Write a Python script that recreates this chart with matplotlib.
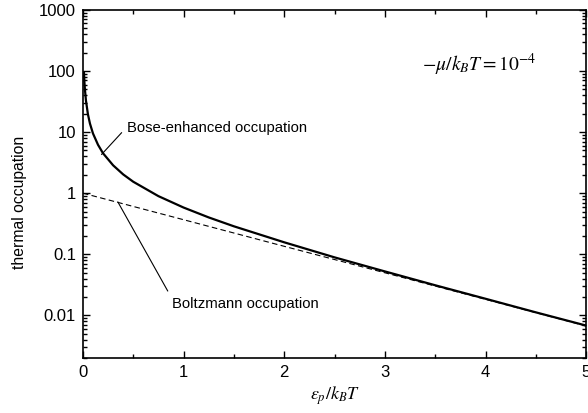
import matplotlib
matplotlib.use("Agg")
import matplotlib.pyplot as plt
from matplotlib.ticker import LogLocator, MultipleLocator, NullFormatter, FixedLocator

plt.rcParams['font.family'] = ['Liberation Sans', 'DejaVu Sans']
plt.rcParams['mathtext.fontset'] = 'stix'

# Bose-enhanced occupation (solid) and Boltzmann occupation (dashed)
bose_x = [0.01, 0.015, 0.02, 0.03, 0.05, 0.07, 0.1, 0.15, 0.2, 0.3, 0.4, 0.5,
          0.75, 1.0, 1.25, 1.5, 2.0, 2.5, 3.0, 3.5, 4.0, 4.5, 5.0]
bose_y = [99, 66, 50, 33, 19.5, 13.8, 9.5, 6.2, 4.5, 2.86, 2.03, 1.54,
          0.895, 0.582, 0.401, 0.287, 0.157, 0.089, 0.0524, 0.0311, 0.0187, 0.0112, 0.0068]
boltz_x = [0.0, 1.0, 2.0, 3.0, 4.0, 5.0]
boltz_y = [1.0, 0.368, 0.135, 0.0498, 0.0183, 0.0067]

x_ticks = [0, 1, 2, 3, 4, 5]
y_ticks = [0.01, 0.1, 1, 10, 100, 1000]
y_labels = ["0.01", "0.1", "1", "10", "100", "1000"]

fig = plt.figure(figsize=(5.88, 4.13), dpi=100)
ax = fig.add_axes([0.141, 0.133, 0.856, 0.843])

ax.plot(bose_x, bose_y, color='black', lw=1.6, solid_capstyle='butt')
ax.plot(boltz_x, boltz_y, color='black', lw=0.8, dashes=(5, 3))

ax.set_yscale('log')
ax.set_xlim(0, 5)
ax.set_ylim(0.002, 1000)

ax.xaxis.set_major_locator(FixedLocator(x_ticks))
ax.xaxis.set_minor_locator(MultipleLocator(0.5))
ax.set_xticklabels([str(v) for v in x_ticks])
ax.yaxis.set_major_locator(FixedLocator(y_ticks))
ax.set_yticklabels(y_labels)
ax.yaxis.set_minor_locator(LogLocator(base=10, subs=range(2, 10)))
ax.yaxis.set_minor_formatter(NullFormatter())

ax.tick_params(which='both', direction='in', top=True, right=True, width=1.0,
               labelsize=12, colors='black')
ax.tick_params(which='major', length=5, pad=5)
ax.tick_params(which='minor', length=3)
for s in ax.spines.values():
    s.set_linewidth(1.2)

ax.set_ylabel('thermal occupation', fontsize=11.3)
ax.yaxis.set_label_coords(-0.112, 0.448)
ax.set_xlabel(r'$\varepsilon_p/k_BT$', fontsize=13, labelpad=3)

ax.text(3.94, 125, r'$-\mu/k_BT = 10^{-4}$', fontsize=14,
        ha='center', va='center')

# Bose label with its leader line
ax.text(0.44, 11.8, 'Bose-enhanced occupation', fontsize=10.7,
        ha='left', va='center')
ax.annotate('', xy=(0.185, 4.3), xytext=(0.385, 9.8),
            arrowprops=dict(arrowstyle='-', lw=0.8, color='black',
                            shrinkA=0, shrinkB=0))

# Boltzmann label with its leader line
ax.text(0.883, 0.0155, 'Boltzmann occupation', fontsize=10.7,
        ha='left', va='center')
ax.annotate('', xy=(0.347, 0.72), xytext=(0.843, 0.025),
            arrowprops=dict(arrowstyle='-', lw=0.8, color='black',
                            shrinkA=0, shrinkB=0))

fig.savefig('out.png', dpi=100)
